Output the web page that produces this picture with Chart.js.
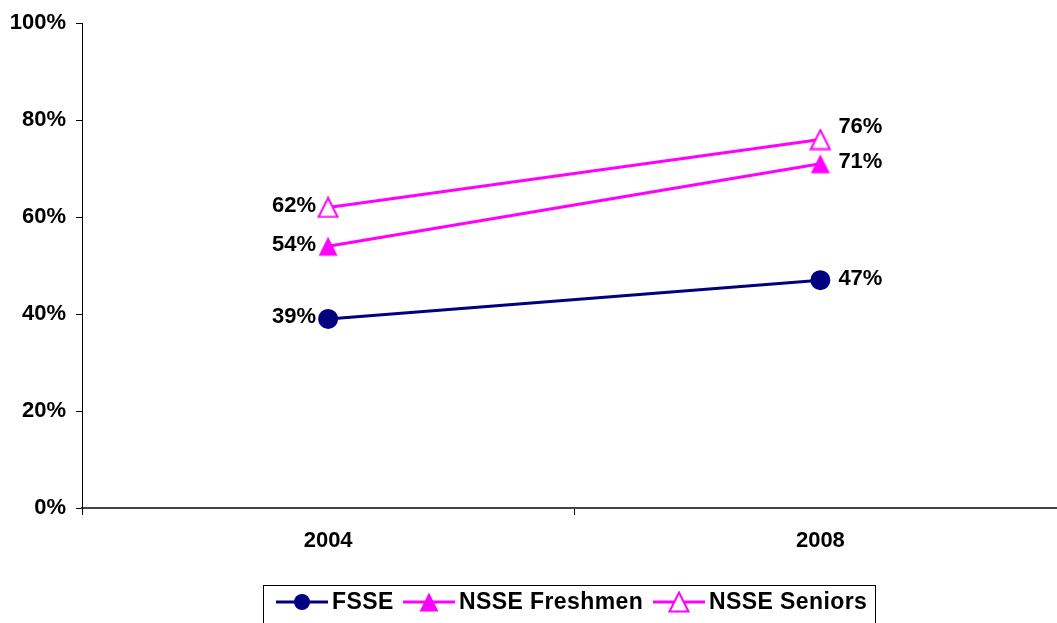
<!DOCTYPE html>
<html>
<head>
<meta charset="utf-8">
<script src="https://cdn.jsdelivr.net/npm/chart.js@4/dist/chart.umd.min.js"></script>
<style>
  html, body { margin: 0; padding: 0; background: #fff; overflow: hidden; }
  /* plot area runs a little past the right edge of the window, as in the reference */
  #wrap { width: 1078px; height: 623px; position: relative; }
</style>
</head>
<body>
<div id="wrap"><canvas id="surveyChart"></canvas></div>
<script>
// Data
const years = ['2004', '2008'];
const fsseValues = [39, 47];
const freshmenValues = [54, 71];
const seniorsValues = [62, 76];
const yTicks = [0, 20, 40, 60, 80, 100];

const NAVY = '#000080';
const MAGENTA = '#FF00FF';
const FONT = '"Liberation Sans", Arial, sans-serif';

Chart.defaults.font.family = FONT;
Chart.defaults.color = '#000';

// Excel style triangle marker (box centred, not centroid centred)
function makeTriangle(fill, stroke) {
    const c = document.createElement('canvas');
    c.width = 22;
    c.height = 22;
    const g = c.getContext('2d');
    g.beginPath();
    g.moveTo(11, 1.5);
    g.lineTo(20.5, 20.5);
    g.lineTo(1.5, 20.5);
    g.closePath();
    g.fillStyle = fill;
    g.fill();
    if (stroke) {
        g.lineWidth = 2;
        g.strokeStyle = stroke;
        g.stroke();
    }
    return c;
}

const solidTriangle = makeTriangle(MAGENTA, null);
const hollowTriangle = makeTriangle('#fff', MAGENTA);

// Value labels next to each point
const valueLabels = {
    id: 'valueLabels',
    afterDatasetsDraw(chart) {
        const ctx = chart.ctx;
        ctx.save();
        ctx.font = 'bold 22px ' + FONT;
        ctx.fillStyle = '#000';
        ctx.textBaseline = 'middle';
        chart.data.datasets.forEach((ds, di) => {
            const meta = chart.getDatasetMeta(di);
            meta.data.forEach((pt, i) => {
                const txt = ds.data[i] + '%';
                let y = pt.y - 1.5;
                if (i === 0) {
                    ctx.textAlign = 'right';
                    ctx.fillText(txt, pt.x - 12, y);
                } else {
                    if (di === 2) y -= 11;
                    ctx.textAlign = 'left';
                    ctx.fillText(txt, pt.x + 18, y);
                }
            });
        });
        ctx.restore();
    }
};

// Boxed legend at the bottom, line + marker + label
const legendLineX = [276, 403, 653];
const boxLegend = {
    id: 'boxLegend',
    afterDraw(chart) {
        const ctx = chart.ctx;
        const y = 602;
        ctx.save();
        ctx.font = 'bold 23px ' + FONT;
        ctx.letterSpacing = '0.4px';
        ctx.textBaseline = 'middle';
        ctx.textAlign = 'left';
        chart.data.datasets.forEach((ds, i) => {
            const x = legendLineX[i];
            ctx.strokeStyle = ds.borderColor;
            ctx.lineWidth = 3;
            ctx.beginPath();
            ctx.moveTo(x, y);
            ctx.lineTo(x + 52, y);
            ctx.stroke();
            const mx = x + 26;
            if (ds.pointStyle === 'circle') {
                ctx.fillStyle = ds.borderColor;
                ctx.beginPath();
                ctx.arc(mx, y, 8, 0, Math.PI * 2);
                ctx.fill();
            } else {
                ctx.drawImage(ds.pointStyle, mx - 11, y - 11);
            }
            ctx.fillStyle = '#000';
            ctx.fillText(ds.label, x + 56, y + 1);
        });
        ctx.strokeStyle = '#000';
        ctx.lineWidth = 1;
        ctx.strokeRect(263.5, 585.5, 612, 45);
        ctx.restore();
    }
};

const config = {
    type: 'line',
    data: {
        labels: years,
        datasets: [{
            label: 'FSSE',
            data: fsseValues,
            borderColor: NAVY,
            backgroundColor: NAVY,
            borderWidth: 3,
            pointStyle: 'circle',
            pointRadius: 8.5,
            pointBackgroundColor: NAVY,
            pointBorderColor: NAVY
        }, {
            label: 'NSSE Freshmen',
            data: freshmenValues,
            borderColor: MAGENTA,
            backgroundColor: MAGENTA,
            borderWidth: 3,
            pointStyle: solidTriangle
        }, {
            label: 'NSSE Seniors',
            data: seniorsValues,
            borderColor: MAGENTA,
            backgroundColor: '#fff',
            borderWidth: 3,
            pointStyle: hollowTriangle
        }]
    },
    options: {
        responsive: true,
        maintainAspectRatio: false,
        animation: false,
        layout: {
            padding: { top: 18, left: 0, right: 0, bottom: 0 }
        },
        plugins: {
            legend: { display: false },
            tooltip: { enabled: false }
        },
        scales: {
            x: {
                offset: true,
                grid: {
                    offset: true,
                    drawOnChartArea: false,
                    drawTicks: true,
                    tickLength: 7,
                    color: '#000'
                },
                border: { display: true, color: '#444', width: 2 },
                ticks: {
                    padding: 13,
                    font: { size: 22, weight: 'bold' },
                    color: '#000',
                    maxRotation: 0
                },
                afterFit(scale) { scale.height = 115; }
            },
            y: {
                min: 0,
                max: 100,
                grid: {
                    drawOnChartArea: false,
                    drawTicks: true,
                    tickLength: 6,
                    color: '#000'
                },
                border: { display: true, color: '#000', width: 1 },
                afterBuildTicks(scale) {
                    scale.ticks = yTicks.map(v => ({ value: v }));
                },
                ticks: {
                    padding: 10,
                    font: { size: 22, weight: 'bold' },
                    color: '#000',
                    callback: v => v + '%'
                },
                afterFit(scale) { scale.width = 82; }
            }
        }
    },
    plugins: [valueLabels, boxLegend]
};

new Chart(document.getElementById('surveyChart'), config);
</script>
</body>
</html>
